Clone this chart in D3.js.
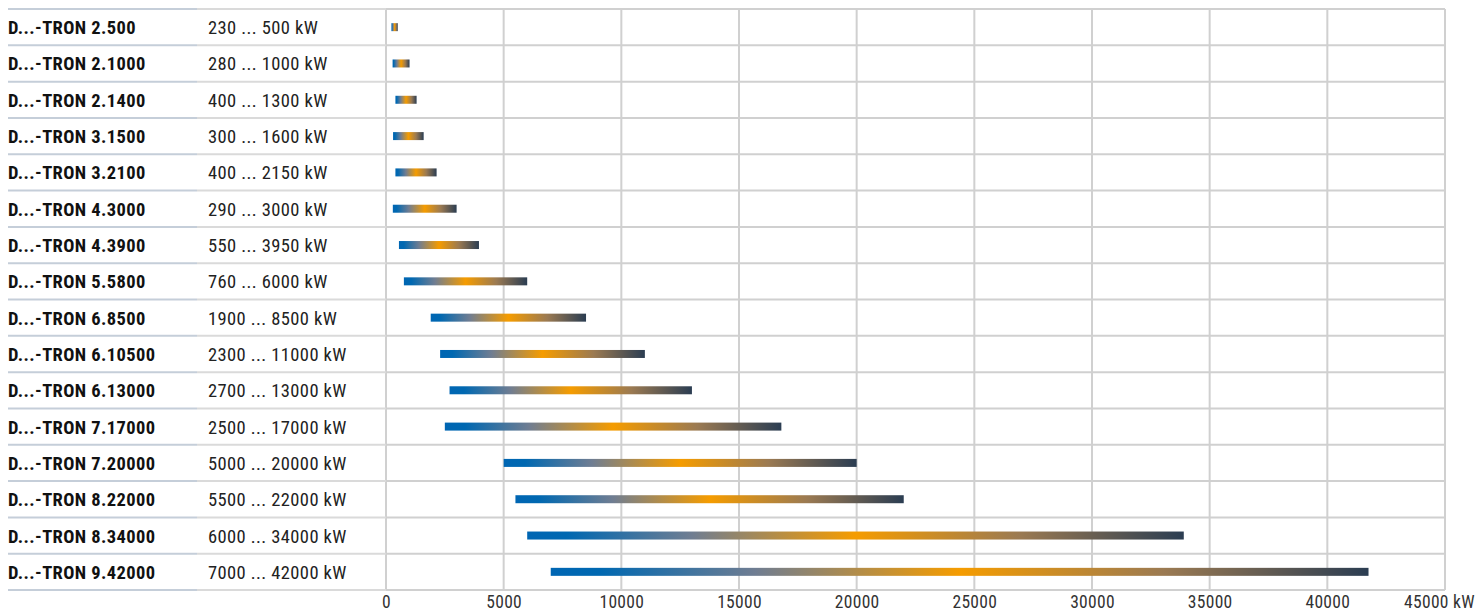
<!DOCTYPE html>
<html><head><meta charset="utf-8">
<script src="https://cdn.jsdelivr.net/npm/d3@7"></script>
<style>
html,body{margin:0;padding:0;background:#fff;}
svg{display:block;}
text{font-family:"Liberation Sans Narrow","Roboto Condensed","DejaVu Sans Condensed",sans-serif;}
</style></head>
<body>
<svg id="chart" width="1478" height="612"></svg>
<script>
const names = ["D...-TRON 2.500","D...-TRON 2.1000","D...-TRON 2.1400","D...-TRON 3.1500","D...-TRON 3.2100","D...-TRON 4.3000","D...-TRON 4.3900","D...-TRON 5.5800","D...-TRON 6.8500","D...-TRON 6.10500","D...-TRON 6.13000","D...-TRON 7.17000","D...-TRON 7.20000","D...-TRON 8.22000","D...-TRON 8.34000","D...-TRON 9.42000"];
const rangeLabels = ["230 ... 500 kW","280 ... 1000 kW","400 ... 1300 kW","300 ... 1600 kW","400 ... 2150 kW","290 ... 3000 kW","550 ... 3950 kW","760 ... 6000 kW","1900 ... 8500 kW","2300 ... 11000 kW","2700 ... 13000 kW","2500 ... 17000 kW","5000 ... 20000 kW","5500 ... 22000 kW","6000 ... 34000 kW","7000 ... 42000 kW"];
const minPower = [230,280,400,300,400,290,550,760,1900,2300,2700,2500,5000,5500,6000,7000];
const maxPower = [500,1000,1300,1600,2150,3000,3950,6000,8500,11000,13000,16800,20000,22000,33900,41750];
const tickValues = [0,5000,10000,15000,20000,25000,30000,35000,40000,45000];
const tickLabels = ["0","5000","10000","15000","20000","25000","30000","35000","40000","45000 kW"];

(function(){
const svg = d3.select("#chart");
const L = 386, R = 1445, T = 9, B = 590;
const x = d3.scaleLinear().domain([0,45000]).range([L,R]);
const y = d3.scaleBand().domain(names).range([T,B]).padding(0);
const bw = y.bandwidth();
const FONT = '"Liberation Sans Narrow","Roboto Condensed","DejaVu Sans Condensed",sans-serif';

const defs = svg.append("defs");
const grad = defs.append("linearGradient").attr("id","barGrad").attr("x1","0").attr("x2","1").attr("y1","0").attr("y2","0");
[[0,"#0066b3"],[0.06,"#0068b1"],[0.25,"#6f7d92"],[0.5,"#f59c00"],[0.75,"#9b7a52"],[1,"#2b3d52"]].forEach(s=>{
  grad.append("stop").attr("offset",s[0]).attr("stop-color",s[1]);
});

svg.append("g").selectAll("line").data(tickValues).join("line")
  .attr("x1",d=>x(d)).attr("x2",d=>x(d)).attr("y1",T).attr("y2",B)
  .attr("stroke","#d0d0d0").attr("stroke-width",2);

const bounds = names.map(n=>y(n)).concat([B]);
const hg = svg.append("g");
hg.selectAll("line.p").data(bounds).join("line").attr("class","p")
  .attr("x1",L).attr("x2",R).attr("y1",d=>d).attr("y2",d=>d)
  .attr("stroke","#d0d0d0").attr("stroke-width",2);
hg.selectAll("line.n").data(bounds).join("line").attr("class","n")
  .attr("x1",8).attr("x2",197).attr("y1",d=>d).attr("y2",d=>d)
  .attr("stroke","#c5ced9").attr("stroke-width",2);
hg.selectAll("line.r").data(bounds).join("line").attr("class","r")
  .attr("x1",197).attr("x2",L).attr("y1",d=>d).attr("y2",d=>d)
  .attr("stroke","#dadada").attr("stroke-width",2);

svg.append("g").selectAll("text").data(names).join("text")
  .attr("x",8).attr("y",d=>y(d)+bw/2+1).attr("dominant-baseline","central")
  .attr("font-size",18.5).attr("letter-spacing","0.4px").attr("font-weight","bold").attr("fill","#111").text(d=>d);
svg.append("g").selectAll("text").data(rangeLabels).join("text")
  .attr("x",208).attr("y",(d,i)=>y(names[i])+bw/2+1).attr("dominant-baseline","central")
  .attr("font-size",18.5).attr("letter-spacing","0.4px").attr("fill","#222").text(d=>d);

const bh = 8;
svg.append("g").selectAll("rect").data(names).join("rect")
  .attr("x",(d,i)=>x(minPower[i])).attr("width",(d,i)=>x(maxPower[i])-x(minPower[i]))
  .attr("y",d=>y(d)+bw/2-bh/2).attr("height",bh)
  .attr("fill","url(#barGrad)");

const axis = d3.axisBottom(x).tickValues(tickValues).tickFormat((d,i)=>tickLabels[i]).tickSize(0).tickPadding(6);
const ag = svg.append("g").attr("transform",`translate(0,${B})`).call(axis);
ag.select(".domain").remove();
ag.selectAll("text").attr("font-size",17.5).attr("letter-spacing","0.3px").attr("fill","#333").style("font-family",FONT)
  .attr("dx",(d,i)=>i===tickValues.length-1?-6:0);
})();
</script>
</body></html>
